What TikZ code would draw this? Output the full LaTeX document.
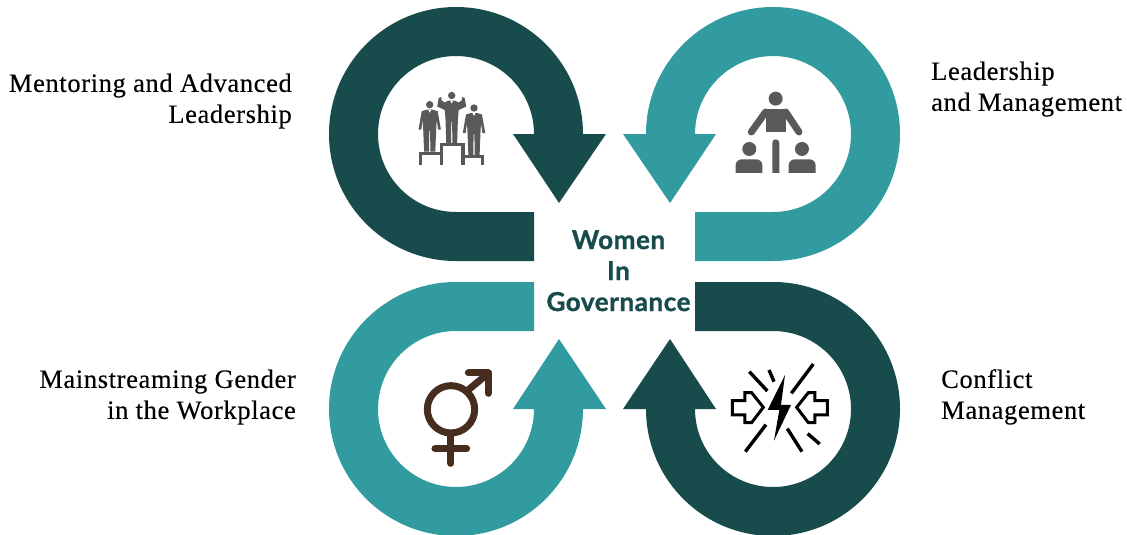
\documentclass[tikz,border=0pt]{standalone}
\usepackage{fontspec}
\setmainfont{Liberation Serif}[LetterSpace=2.4,FakeBold=0.25]
\newfontfamily\centerfont{Lato}[LetterSpace=2.2,BoldFeatures={FakeBold=1.2}]
\definecolor{darkteal}{HTML}{174B4C}
\definecolor{lightteal}{HTML}{329B9F}
\definecolor{icongray}{HTML}{595959}
\definecolor{iconbrown}{HTML}{472D1E}
\tikzset{
  labeltext/.style={inner sep=0pt,font=\fontsize{26.5}{31}\selectfont},
  centertext/.style={inner sep=0pt,align=center,text=darkteal,font=\centerfont\bfseries\fontsize{26}{31}\selectfont},
  zoomTR/.style={shift={(620,0)},x=.3333pt,y=-.3333pt},
  zoomBL/.style={shift={(320,270)},x=.3333pt,y=-.3333pt},
  zoomBR/.style={shift={(620,270)},x=.3333pt,y=-.3333pt},
  podiumperson/.pic={\fill[icongray] (0,0) circle (3.7);
    \fill[icongray] (-3,5)--(3,5)--(8,6.5)--(11.2,25)--(8.4,25)--(7,15)--(6.6,22)--(5.6,47)--(.7,47)--(.4,26)--(-.4,26)--(-.7,47)--(-5.6,47)--(-6.6,22)--(-7,15)--(-8.4,25)--(-11.2,25)--(-8,6.5)--cycle;
    \fill[white] (-1.4,5.2)--(0,8)--(1.4,5.2)--cycle;},
  cheerperson/.pic={\fill[icongray] (0,0) circle (3.7);
    \fill[icongray] (-3,5)--(3,5)--(7,7)--(10,5)--(10.5,1.5)--(13,2.5)--(14.5,11)--(7,14.5)--(6.2,24)--(5.4,48)--(.7,48)--(.4,26)--(-.4,26)--(-.7,48)--(-5.4,48)--(-6.2,24)--(-7,14.5)--(-14.5,11)--(-13,2.5)--(-10.5,1.5)--(-10,5)--(-7,7)--cycle;
    \fill[white] (-1.4,5.2)--(0,8)--(1.4,5.2)--cycle;},
  icongrayline/.style={draw=icongray,line width=3.2pt},
  gender/.style={draw=iconbrown,line width=7pt,line cap=round,line join=round},
  shock/.style={draw=black,line width=3.4pt},
  hollow/.style={draw=black,line width=3pt,line join=miter},
}
\begin{document}
\begin{tikzpicture}[x=1pt,y=-1pt]
\useasboundingbox (0,0) rectangle (1127,535);
% curved arrows
\fill[darkteal] (534,261)--(456,261) arc[start angle=90,end angle=360,radius=127]--(606,134)--(559,203)--(513,134)--(534,134) arc[start angle=360,end angle=90,radius=78]--(534,212)--cycle;
\fill[lightteal] (695,261)--(773,261) arc[start angle=90,end angle=-180,radius=127]--(623,134)--(670,203)--(716,134)--(695,134) arc[start angle=180,end angle=450,radius=78]--(695,212)--cycle;
\fill[lightteal] (534,282)--(456,282) arc[start angle=270,end angle=0,radius=127]--(606,409)--(559,339)--(513,409)--(534,409) arc[start angle=0,end angle=270,radius=78]--(534,331)--cycle;
\fill[darkteal] (695,282)--(773,282) arc[start angle=270,end angle=540,radius=127]--(623,409)--(670,339)--(716,409)--(695,409) arc[start angle=180,end angle=-90,radius=78]--(695,331)--cycle;
% podium icon
\pic at (429.7,104.7) {podiumperson};
\pic at (474,108) {podiumperson};
\pic at (451.7,95.5) {cheerperson};
\draw[icongrayline] (420.6,165)--(420.6,153.6)--(441.5,153.6);
\draw[icongrayline] (441.5,165)--(441.5,144.6)--(463,144.6)--(463,165);
\draw[icongrayline] (463,156.6)--(482.4,156.6)--(482.4,165);
% team icon
\begin{scope}[zoomTR]
\fill[icongray] (467,296) circle (21);
\fill[icongray] (437,327) rectangle (497,395);
\draw[icongray,line width=7pt,line cap=round] (437,336)--(394,396);
\draw[icongray,line width=7pt,line cap=round] (497,336)--(537,396);
\fill[icongray,rounded corners=3.4pt] (457,530)--(457,418)--(478,418)--(478,530)--cycle;
\fill[icongray] (388,447) circle (21);
\fill[icongray] (546,447) circle (21);
\fill[icongray,rounded corners=6pt] (347,540)--(347,478)--(427,478)--(427,540)--cycle;
\fill[icongray,rounded corners=6pt] (506,540)--(506,478)--(587,478)--(587,540)--cycle;
\fill[white] (340,518) rectangle (600,545);
\end{scope}
% gender icon
\begin{scope}[zoomBL]
\draw[gender] (393,418) circle (71);
\draw[gender] (447,358)--(505,310);
\draw[gender] (445,309)--(505,309)--(505,370);
\draw[gender] (393,498)--(393,580);
\draw[gender] (345,536)--(440,536);
\end{scope}
% conflict icon
\begin{scope}[zoomBR]
\fill[black] (495,315)--(443,420)--(478,420)--(462,512)--(513,405)--(483,405)--cycle;
\draw[hollow] (337,392)--(375,392)--(375,368)--(395,368)--(430,412)--(395,458)--(375,458)--(375,435)--(337,435)--cycle;
\draw[hollow] (622,392)--(585,392)--(585,368)--(565,368)--(530,412)--(565,458)--(585,458)--(585,435)--(622,435)--cycle;
\draw[shock] (388,305)--(442,363);
\draw[shock] (447,300)--(462,335);
\draw[shock] (580,282)--(514,370);
\draw[shock] (438,464)--(376,545);
\draw[shock] (502,476)--(546,545);
\draw[shock] (563,491)--(599,522);
\end{scope}
% texts
\node[centertext,anchor=base] (title) at (618.5,311) {Women\\In\\Governance};
\node[labeltext,anchor=north east,align=right] (mentor) at (292,70) {\strut Mentoring and Advanced\\\strut Leadership};
\node[labeltext,anchor=north west,align=left] (leader) at (931,58) {\strut Leadership\\\strut and Management};
\node[labeltext,anchor=north east,align=right] (gender) at (296,366) {\strut Mainstreaming Gender\\\strut in the Workplace};
\node[labeltext,anchor=north west,align=left] (conflict) at (941,366) {\strut Conflict\\\strut Management};
\end{tikzpicture}
\end{document}
